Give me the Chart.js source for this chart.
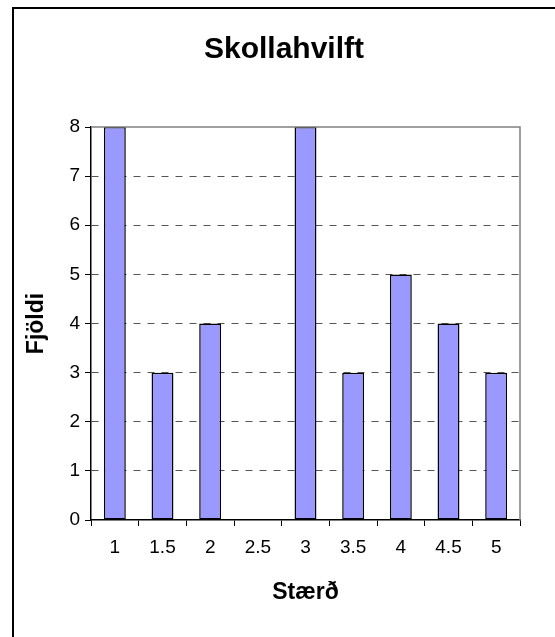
<!DOCTYPE html>
<html>
<head>
<meta charset="utf-8">
<script src="https://cdn.jsdelivr.net/npm/chart.js@4/dist/chart.umd.min.js"></script>
<style>
    html, body { margin: 0; padding: 0; background: #fff; }
    #wrap { width: 555px; height: 637px; }
</style>
</head>
<body>
<div id="wrap"><canvas id="histChart" width="555" height="637"></canvas></div>
<script>
// Chart data
const categories = ["1", "1.5", "2", "2.5", "3", "3.5", "4", "4.5", "5"];
const counts = [8, 3, 4, 0, 8, 3, 5, 4, 3];
const yTicks = [0, 1, 2, 3, 4, 5, 6, 7, 8];

const FONT = "'Liberation Sans', Arial, sans-serif";

// outer frame + plot frame
const framePlugin = {
    id: "frame",
    beforeDraw(chart) {
        const c = chart.ctx;
        c.save();
        c.fillStyle = "#fff";
        c.fillRect(0, 0, chart.width, chart.height);
        c.strokeStyle = "#000";
        c.lineWidth = 2;
        c.strokeRect(13, 8, 600, 700);
        c.restore();
    },
    afterDatasetsDraw(chart) {
        const a = chart.chartArea;
        const c = chart.ctx;
        c.save();
        c.strokeStyle = "#808080";
        c.lineWidth = 1.5;
        c.beginPath();
        c.moveTo(a.left, a.top);
        c.lineTo(a.right, a.top);
        c.lineTo(a.right, a.bottom);
        c.stroke();
        c.restore();
    }
};

new Chart(document.getElementById("histChart"), {
    type: "bar",
    data: {
        labels: categories,
        datasets: [{
            data: counts,
            backgroundColor: "#9999FF",
            borderColor: "#000",
            borderWidth: 1.5,
            borderSkipped: false,
            barPercentage: 0.46,
            categoryPercentage: 1
        }]
    },
    options: {
        responsive: false,
        animation: false,
        layout: { padding: { left: 13, right: 0, top: 0, bottom: 0 } },
        plugins: {
            legend: { display: false },
            tooltip: { enabled: false },
            title: {
                display: true,
                text: "Skollahvilft",
                color: "#000",
                font: { family: FONT, size: 30, weight: "bold" },
                padding: { top: 32, bottom: 59 }
            }
        },
        scales: {
            x: {
                offset: true,
                grid: {
                    offset: true,
                    drawOnChartArea: false,
                    tickLength: 6,
                    tickColor: "#000",
                    tickWidth: 1
                },
                border: { color: "#000", width: 1.5 },
                ticks: {
                    color: "#000",
                    font: { family: FONT, size: 19 },
                    padding: 10,
                    maxRotation: 0
                },
                title: {
                    display: true,
                    text: "Stærð",
                    color: "#000",
                    font: { family: FONT, size: 23, weight: "bold" },
                    padding: { top: 0, bottom: 31 }
                },
                afterFit(s) { s.height = 117; }
            },
            y: {
                min: 0,
                max: 8,
                afterBuildTicks(s) { s.ticks = yTicks.map(v => ({ value: v })); },
                grid: {
                    color: ctx => (ctx.tick && (ctx.tick.value === 0 || ctx.tick.value === 8)) ? "rgba(0,0,0,0)" : "#555",
                    lineWidth: 1,
                    tickLength: 6,
                    tickColor: "#000",
                    tickWidth: 1
                },
                border: { color: "#000", width: 1.5, dash: [7, 7] },
                ticks: {
                    color: "#000",
                    font: { family: FONT, size: 19 },
                    padding: 5
                },
                title: {
                    display: true,
                    text: "Fjöldi",
                    color: "#000",
                    font: { family: FONT, size: 23, weight: "bold" },
                    padding: { top: 10, bottom: 0 }
                },
                afterFit(s) { s.width = 78; }
            },
            // empty spacer on the right so the title sits where the original has it
            spacer: {
                position: "right",
                display: true,
                grid: { display: false },
                border: { display: false },
                ticks: { display: false },
                afterFit(s) { s.width = 35; }
            }
        }
    },
    plugins: [framePlugin]
});
</script>
</body>
</html>
